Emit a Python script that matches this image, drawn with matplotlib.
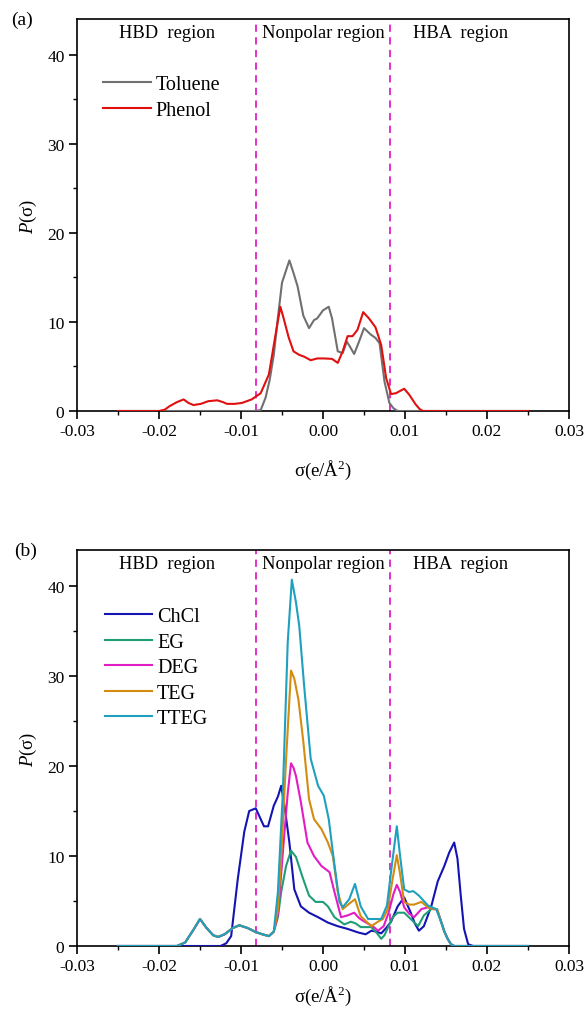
import matplotlib
matplotlib.use("Agg")
import matplotlib.pyplot as plt
from matplotlib.ticker import MultipleLocator, FormatStrFormatter

plt.rcParams['font.family'] = ['Liberation Serif', 'DejaVu Serif']
plt.rcParams['mathtext.fontset'] = 'custom'
plt.rcParams['mathtext.rm'] = 'Liberation Serif'
plt.rcParams['mathtext.it'] = 'Liberation Serif:italic'

# ---------------- Panel (a) data ----------------
toluene_sigma = [-0.025, -0.010, -0.0085, -0.0076, -0.007, -0.0065, -0.006, -0.0055, -0.005, -0.0045,
                 -0.0041, -0.0036, -0.0031, -0.0024, -0.0017, -0.0011, -0.0007, 0.0, 0.0007, 0.0011,
                 0.0018, 0.0024, 0.0029, 0.0033, 0.0038, 0.0044, 0.005, 0.0058, 0.0064, 0.0069,
                 0.0075, 0.0081, 0.0086, 0.0091, 0.010, 0.025]
toluene_p = [0, 0, 0, 0.1, 1.5, 3.5, 6.3, 10.5, 14.4, 15.8,
             16.9, 15.5, 14.0, 10.7, 9.3, 10.2, 10.4, 11.3, 11.7, 10.4,
             6.7, 6.5, 7.8, 7.2, 6.4, 7.8, 9.3, 8.6, 8.2, 7.6,
             3.3, 0.9, 0.3, 0.0, 0, 0]

phenol_sigma = [-0.025, -0.020, -0.0193, -0.0187, -0.0178, -0.017, -0.0164, -0.0158, -0.0149, -0.014,
                -0.0129, -0.0122, -0.0117, -0.0108, -0.0099, -0.0087, -0.0076, -0.0066, -0.0058, -0.0052,
                -0.0048, -0.0042, -0.0036, -0.0029, -0.0023, -0.0015, -0.0007, 0.0001, 0.0011, 0.0018,
                0.0024, 0.003, 0.0036, 0.0042, 0.0049, 0.0056, 0.0064, 0.0071, 0.0077, 0.0083,
                0.0089, 0.0095, 0.0099, 0.0105, 0.0113, 0.0118, 0.0122, 0.025]
phenol_p = [0, 0, 0.15, 0.55, 1.0, 1.3, 0.9, 0.67, 0.8, 1.1,
            1.2, 1.0, 0.8, 0.8, 0.9, 1.3, 2.0, 4.1, 8.5, 11.7,
            10.4, 8.3, 6.7, 6.3, 6.1, 5.7, 5.9, 5.9, 5.85, 5.4,
            6.7, 8.4, 8.4, 9.1, 11.1, 10.4, 9.4, 7.4, 3.7, 1.9,
            2.0, 2.3, 2.5, 1.85, 0.74, 0.2, 0, 0]

# ---------------- Panel (b) data ----------------
chcl_sigma = [-0.025, -0.0125, -0.0118, -0.0112, -0.0104, -0.0096, -0.009, -0.0082, -0.0076, -0.0072,
              -0.0067, -0.006, -0.0055, -0.0051, -0.0047, -0.0041, -0.0035, -0.0027, -0.0017, -0.0006,
              0.0006, 0.0018, 0.003, 0.0043, 0.0052, 0.0059, 0.0065, 0.0071, 0.0077, 0.0083,
              0.0091, 0.0099, 0.0107, 0.0112, 0.0117, 0.0123, 0.0132, 0.014, 0.0148, 0.0154,
              0.016, 0.0164, 0.0168, 0.0172, 0.0177, 0.0183, 0.025]
chcl_p = [0, 0, 0.3, 1.1, 7.4, 12.7, 15.0, 15.3, 14.1, 13.3,
          13.3, 15.6, 16.6, 17.8, 15.6, 11.5, 6.3, 4.4, 3.7, 3.2,
          2.6, 2.2, 1.9, 1.5, 1.3, 1.7, 1.6, 1.4, 2.0, 2.7,
          4.4, 5.4, 3.7, 2.5, 1.7, 2.2, 4.4, 7.2, 8.9, 10.4,
          11.5, 9.7, 5.6, 1.9, 0.2, 0, 0]

# common HBD part of the glycols (hidden below TTEG)
glycol_hbd_sigma = [-0.025, -0.0178, -0.0168, -0.0158, -0.015, -0.0142, -0.0134, -0.0128, -0.012, -0.011,
                    -0.0102, -0.0092, -0.0082, -0.0074, -0.0066, -0.006]
glycol_hbd_p = [0, 0, 0.4, 1.8, 3.0, 2.0, 1.2, 1.0, 1.3, 2.0,
                2.3, 2.0, 1.55, 1.3, 1.1, 1.6]

eg_sigma = glycol_hbd_sigma + [-0.0055, -0.0051, -0.0045, -0.0039, -0.0033, -0.0028, -0.0024, -0.0017, -0.0009, 0.0,
                               0.0006, 0.0014, 0.002, 0.0026, 0.0034, 0.004, 0.0046, 0.0059, 0.0066, 0.0071,
                               0.0075, 0.008, 0.0085, 0.0091, 0.0099, 0.0107, 0.0116, 0.0123, 0.0132, 0.0139,
                               0.0144, 0.0148, 0.0152, 0.0156, 0.016, 0.025]
eg_p = glycol_hbd_p + [3.2, 6.0, 8.9, 10.6, 9.9, 8.5, 7.4, 5.6, 4.9, 4.9,
                       4.4, 3.2, 2.8, 2.4, 2.7, 2.5, 2.1, 2.1, 1.4, 0.8,
                       1.2, 2.2, 3.2, 3.7, 3.7, 3.0, 2.2, 3.4, 4.1, 4.1,
                       2.7, 1.6, 0.8, 0.2, 0, 0]

deg_sigma = glycol_hbd_sigma + [-0.0055, -0.0051, -0.0048, -0.0043, -0.0039, -0.0036, -0.0033, -0.0027, -0.0019, -0.0011,
                                -0.0002, 0.0008, 0.0014, 0.0022, 0.003, 0.0038, 0.0044, 0.0049, 0.0062, 0.0067,
                                0.0074, 0.008, 0.0086, 0.009, 0.0094, 0.0099, 0.0105, 0.0111, 0.012, 0.0128,
                                0.0135, 0.0139, 0.0144, 0.0148, 0.0152, 0.0156, 0.016, 0.025]
deg_p = glycol_hbd_p + [3.5, 8.0, 11.5, 17.0, 20.3, 19.8, 18.9, 16.0, 11.5, 10.0,
                        8.9, 8.2, 6.0, 3.2, 3.4, 3.7, 3.1, 2.8, 2.1, 1.7,
                        2.2, 3.7, 5.8, 6.8, 6.0, 4.3, 3.6, 3.2, 4.1, 4.3,
                        4.1, 4.1, 2.7, 1.6, 0.8, 0.2, 0, 0]

teg_sigma = glycol_hbd_sigma + [-0.0055, -0.0051, -0.0045, -0.0039, -0.0035, -0.003, -0.0024, -0.0017, -0.0011, -0.0002,
                                0.0006, 0.0012, 0.0018, 0.0024, 0.0032, 0.0039, 0.0046, 0.0059, 0.0067, 0.0073,
                                0.0079, 0.0085, 0.009, 0.0094, 0.0099, 0.0105, 0.0111, 0.012, 0.0128, 0.0135,
                                0.0139, 0.0144, 0.0148, 0.0152, 0.0156, 0.016, 0.025]
teg_p = glycol_hbd_p + [4.0, 9.7, 20.8, 30.6, 29.7, 27.4, 22.7, 16.3, 14.1, 13.0,
                        11.5, 10.0, 6.0, 4.1, 4.7, 5.2, 3.3, 2.2, 2.7, 3.0,
                        4.1, 7.5, 10.1, 8.0, 4.9, 4.6, 4.6, 4.9, 4.3, 4.1,
                        4.1, 2.7, 1.6, 0.8, 0.2, 0, 0]

tteg_sigma = glycol_hbd_sigma + [-0.0055, -0.0049, -0.0043, -0.0038, -0.0033, -0.0029, -0.0023, -0.0015, -0.0006, 0.0001,
                                 0.0007, 0.0013, 0.002, 0.0024, 0.0032, 0.0039, 0.0046, 0.0055, 0.0071, 0.0078,
                                 0.0084, 0.009, 0.0094, 0.0099, 0.0105, 0.011, 0.0117, 0.0128, 0.0138, 0.0144,
                                 0.0148, 0.0152, 0.0156, 0.016, 0.025]
tteg_p = glycol_hbd_p + [6.0, 17.0, 33.8, 40.7, 38.2, 35.6, 28.9, 20.8, 17.8, 16.7,
                         14.1, 9.7, 4.9, 4.3, 5.2, 6.9, 4.4, 3.0, 3.0, 4.5,
                         9.0, 13.3, 10.0, 6.3, 6.0, 6.1, 5.6, 4.5, 4.1, 2.7,
                         1.6, 0.8, 0.2, 0, 0]

region_lines = [-0.0082, 0.0082]
region_labels = ["HBD  region", "Nonpolar region", "HBA  region"]
region_label_x = [-0.019, 0.0, 0.0168]

fig = plt.figure(figsize=(5.86, 10.12), dpi=100)
W, H = 586.0, 1012.0
def add_axes(left, top, right, bottom):
    return fig.add_axes([left / W, 1 - bottom / H, (right - left) / W, (bottom - top) / H])

ax1 = add_axes(77, 20, 569, 412)
ax2 = add_axes(77, 551, 569, 947)

def style(ax, xlabelpad):
    ax.set_xlim(-0.03, 0.03)
    ax.set_ylim(0, 44)
    ax.xaxis.set_major_locator(MultipleLocator(0.01))
    ax.xaxis.set_minor_locator(MultipleLocator(0.005))
    ax.yaxis.set_major_locator(MultipleLocator(10))
    ax.yaxis.set_minor_locator(MultipleLocator(5))
    ax.xaxis.set_major_formatter(FormatStrFormatter('%.2f'))
    ax.tick_params(axis='both', which='major', direction='out', length=5.5, width=1.2, labelsize=12.5)
    ax.tick_params(axis='both', which='minor', direction='out', length=3, width=1.0)
    ax.tick_params(top=False, right=False, which='both')
    for s in ax.spines.values():
        s.set_linewidth(1.2)
    ax.set_xlabel('σ(e/Å$^2$)', fontsize=13.5, labelpad=xlabelpad)
    ax.set_ylabel('$P$(σ)', fontsize=13.5, labelpad=6)
    for xv in region_lines:
        ax.axvline(xv, color='#e020c8', linestyle=(0, (4, 3)), linewidth=1.3, zorder=1)
    for xv, lab in zip(region_label_x, region_labels):
        ax.text(xv, 42.5, lab, ha='center', va='center', fontsize=13.3)

leg_kw = dict(loc='upper left', frameon=False, fontsize=14.5, handlelength=2.35,
              handletextpad=0.25, labelspacing=0.32, borderaxespad=0)

style(ax1, 13)
ax1.plot(toluene_sigma, toluene_p, color='#707070', lw=1.5, label='Toluene', zorder=3)
ax1.plot(phenol_sigma, phenol_p, color='#e01010', lw=1.5, label='Phenol', zorder=4)
ax1.legend(bbox_to_anchor=(0.037, 0.877), **leg_kw)
ax1.text(-0.133, 1.0, '(a)', transform=ax1.transAxes, fontsize=14, ha='left', va='center')

style(ax2, 7)
ax2.plot(chcl_sigma, chcl_p, color='#1414b4', lw=1.5, label='ChCl', zorder=3)
ax2.plot(eg_sigma, eg_p, color='#1f9e78', lw=1.5, label='EG', zorder=3)
ax2.plot(deg_sigma, deg_p, color='#e21cc4', lw=1.5, label='DEG', zorder=3)
ax2.plot(teg_sigma, teg_p, color='#d48c10', lw=1.5, label='TEG', zorder=3)
ax2.plot(tteg_sigma, tteg_p, color='#1ea0be', lw=1.5, label='TTEG', zorder=3)
ax2.legend(bbox_to_anchor=(0.04, 0.876), **leg_kw)
ax2.text(-0.128, 1.0, '(b)', transform=ax2.transAxes, fontsize=14, ha='left', va='center')

fig.savefig('out.png', dpi=100)
